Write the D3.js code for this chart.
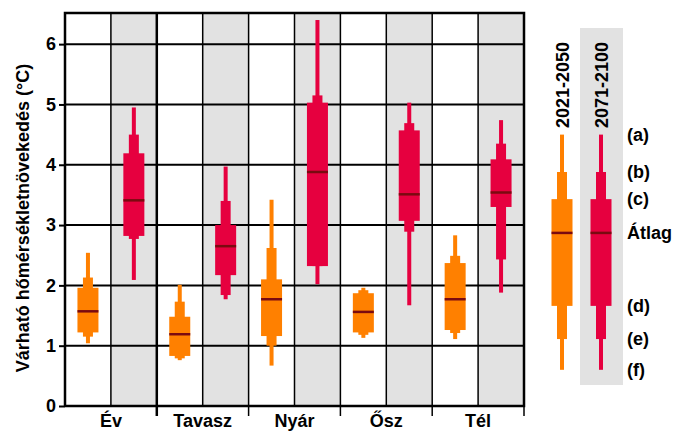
<!DOCTYPE html>
<html>
<head>
<meta charset="utf-8">
<script src="https://cdn.jsdelivr.net/npm/d3@7"></script>
<style>
  body { margin: 0; background: #fff; }
  text { font-family: "Liberation Sans", Arial, sans-serif; font-weight: bold; fill: #000; }
</style>
</head>
<body>
<div id="chart"></div>
<script>
// Categories
const seasons = ["Év", "Tavasz", "Nyár", "Ősz", "Tél"];
const periods = ["2021-2050", "2071-2100"];
const yTicks = [0, 1, 2, 3, 4, 5, 6];

// 2021-2050 values per season: (a) (b) (c) mean (d) (e) (f)
const nearA = [2.54, 2.01, 3.42, 1.96, 2.83];
const nearB = [2.13, 1.73, 2.62, 1.92, 2.49];
const nearC = [1.96, 1.48, 2.10, 1.87, 2.37];
const nearMean = [1.57, 1.19, 1.77, 1.56, 1.77];
const nearD = [1.22, 0.83, 1.16, 1.22, 1.26];
const nearE = [1.15, 0.79, 1.00, 1.18, 1.21];
const nearF = [1.04, 0.76, 0.67, 1.13, 1.11];

// 2071-2100 values per season
const farA = [4.95, 3.97, 6.40, 5.03, 4.74];
const farB = [4.50, 3.40, 5.15, 4.69, 4.35];
const farC = [4.19, 3.00, 5.03, 4.57, 4.09];
const farMean = [3.41, 2.65, 3.88, 3.51, 3.54];
const farD = [2.82, 2.17, 2.32, 3.07, 3.30];
const farE = [2.77, 1.84, 2.32, 2.89, 2.43];
const farF = [2.09, 1.77, 2.02, 1.67, 1.88];

// Legend (schematic box)
const legendLabels = ["(a)", "(b)", "(c)", "Átlag", "(d)", "(e)", "(f)"];
const legendValues = [4.50, 3.88, 3.43, 2.87, 1.66, 1.11, 0.60];

const colors = ["#ff8000", "#e6003f"];
const meanColor = "#7a0a10";

const width = 676, height = 432;
const plot = { left: 65, right: 524, top: 13, bottom: 406 };

const svg = d3.select("#chart")
  .append("svg")
  .attr("width", width)
  .attr("height", height);

// Scales
const x0 = d3.scaleBand().domain(seasons).range([plot.left, plot.right]);
const x1 = d3.scaleBand().domain(periods).range([0, x0.bandwidth()]);
const y = d3.scaleLinear().domain([0, 6.5]).range([plot.bottom, plot.bottom - 6.5 * 60.31]);

// Build rows from the arrays
const rows = [];
seasons.forEach(function(s, i) {
  rows.push({ season: s, period: periods[0], a: nearA[i], b: nearB[i], c: nearC[i], m: nearMean[i], d: nearD[i], e: nearE[i], f: nearF[i] });
  rows.push({ season: s, period: periods[1], a: farA[i], b: farB[i], c: farC[i], m: farMean[i], d: farD[i], e: farE[i], f: farF[i] });
});

// Grey background for the second period
svg.append("g")
  .selectAll("rect")
  .data(seasons)
  .enter()
  .append("rect")
  .attr("x", d => x0(d) + x1(periods[1]))
  .attr("y", plot.top)
  .attr("width", x1.bandwidth())
  .attr("height", plot.bottom - plot.top)
  .attr("fill", "#e2e2e2");

// Horizontal grid lines + Y axis
const yAxis = svg.append("g")
  .attr("transform", "translate(" + plot.left + ",0)")
  .call(d3.axisLeft(y).tickValues(yTicks).tickSize(6).tickPadding(3).tickFormat(d3.format("d")));
yAxis.select(".domain").remove();
yAxis.selectAll("line").attr("stroke", "#000").attr("stroke-width", 2);
yAxis.selectAll("text").style("font-size", "18px").style("font-family", "Liberation Sans, Arial, sans-serif").style("font-weight", "bold");

svg.append("g")
  .selectAll("line")
  .data(yTicks.filter(d => d > 0))
  .enter()
  .append("line")
  .attr("x1", plot.left)
  .attr("x2", plot.right)
  .attr("y1", d => y(d))
  .attr("y2", d => y(d))
  .attr("stroke", "#000")
  .attr("stroke-width", 2);

// Vertical lines between the two periods
svg.append("g")
  .selectAll("line")
  .data(seasons)
  .enter()
  .append("line")
  .attr("x1", d => x0(d) + x1(periods[1]))
  .attr("x2", d => x0(d) + x1(periods[1]))
  .attr("y1", plot.top)
  .attr("y2", plot.bottom)
  .attr("stroke", "#000")
  .attr("stroke-width", 1.5);

// Season boundaries (with ticks below the axis)
svg.append("g")
  .selectAll("line")
  .data(seasons.slice(1))
  .enter()
  .append("line")
  .attr("x1", d => x0(d))
  .attr("x2", d => x0(d))
  .attr("y1", plot.top)
  .attr("y2", plot.bottom + 10)
  .attr("stroke", "#000")
  .attr("stroke-width", (d, i) => i === 0 ? 2.5 : 1.5);

// Boxes
const boxes = svg.append("g")
  .selectAll("g")
  .data(rows)
  .enter()
  .append("g")
  .attr("transform", d => "translate(" + (x0(d.season) + x1(d.period) + x1.bandwidth() / 2) + ",0)");

boxes.append("rect") // (a)-(f) whisker
  .attr("x", -2)
  .attr("width", 4)
  .attr("y", d => y(d.a))
  .attr("height", d => y(d.f) - y(d.a))
  .attr("fill", d => colors[periods.indexOf(d.period)]);

boxes.append("rect") // (b)-(e)
  .attr("x", -5)
  .attr("width", 10)
  .attr("y", d => y(d.b))
  .attr("height", d => y(d.e) - y(d.b))
  .attr("fill", d => colors[periods.indexOf(d.period)]);

boxes.append("rect") // (c)-(d)
  .attr("x", -10.5)
  .attr("width", 21)
  .attr("y", d => y(d.c))
  .attr("height", d => y(d.d) - y(d.c))
  .attr("fill", d => colors[periods.indexOf(d.period)]);

boxes.append("line") // mean
  .attr("x1", -10.5)
  .attr("x2", 10.5)
  .attr("y1", d => y(d.m))
  .attr("y2", d => y(d.m))
  .attr("stroke", meanColor)
  .attr("stroke-width", 2.5);

// Frame
svg.append("path")
  .attr("d", "M" + plot.left + "," + (plot.bottom) + "V" + plot.top + "H" + plot.right + "V" + plot.bottom + "H" + plot.left)
  .attr("fill", "none")
  .attr("stroke", "#000")
  .attr("stroke-width", 2.5);
svg.append("line")
  .attr("x1", plot.right).attr("x2", plot.right)
  .attr("y1", plot.bottom).attr("y2", plot.bottom + 10)
  .attr("stroke", "#000").attr("stroke-width", 1.5);

// X labels
svg.append("g")
  .selectAll("text")
  .data(seasons)
  .enter()
  .append("text")
  .attr("x", d => x0(d) + x0.bandwidth() / 2)
  .attr("y", 427)
  .attr("text-anchor", "middle")
  .style("font-size", "18px")
  .text(d => d);

// Y axis label
svg.append("text")
  .attr("transform", "translate(29,218) rotate(-90)")
  .attr("text-anchor", "middle")
  .style("font-size", "18px")
  .text("Várható hőmérsékletnövekedés (°C)");

// Legend
const lx = d3.scaleBand().domain(periods).range([542.5, 620.5]);
const legend = svg.append("g");

legend.append("rect")
  .attr("x", lx(periods[1]) - 1.5)
  .attr("y", 28)
  .attr("width", lx.bandwidth() + 4)
  .attr("height", 357)
  .attr("fill", "#e2e2e2");

const lg = legend.selectAll("g")
  .data(periods)
  .enter()
  .append("g")
  .attr("transform", d => "translate(" + (lx(d) + lx.bandwidth() / 2) + ",0)");

lg.append("rect")
  .attr("x", -2).attr("width", 4)
  .attr("y", y(legendValues[0]))
  .attr("height", y(legendValues[6]) - y(legendValues[0]))
  .attr("fill", (d, i) => colors[i]);
lg.append("rect")
  .attr("x", -5).attr("width", 10)
  .attr("y", y(legendValues[1]))
  .attr("height", y(legendValues[5]) - y(legendValues[1]))
  .attr("fill", (d, i) => colors[i]);
lg.append("rect")
  .attr("x", -10.5).attr("width", 21)
  .attr("y", y(legendValues[2]))
  .attr("height", y(legendValues[4]) - y(legendValues[2]))
  .attr("fill", (d, i) => colors[i]);
lg.append("line")
  .attr("x1", -10.5).attr("x2", 10.5)
  .attr("y1", y(legendValues[3])).attr("y2", y(legendValues[3]))
  .attr("stroke", meanColor).attr("stroke-width", 2.5);

lg.append("text")
  .attr("transform", "translate(7,128) rotate(-90)")
  .style("font-size", "18px")
  .text(d => d);

legend.selectAll(".lbl")
  .data(legendLabels)
  .enter()
  .append("text")
  .attr("class", "lbl")
  .attr("x", 627)
  .attr("y", (d, i) => y(legendValues[i]))
  .attr("dy", "0.35em")
  .style("font-size", "18px")
  .text(d => d);
</script>
</body>
</html>
